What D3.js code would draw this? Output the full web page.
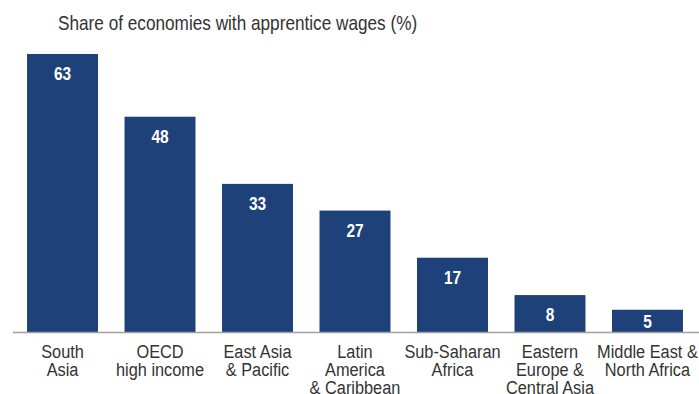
<!DOCTYPE html>
<html><head><meta charset="utf-8">
<script src="https://cdn.jsdelivr.net/npm/d3@7"></script>
<style>body{margin:0;background:#fff}svg{display:block}</style>
</head><body>
<svg id="chart" width="699" height="394"></svg>
<script>
const categories = [["South","Asia"],["OECD","high income"],["East Asia","& Pacific"],["Latin","America","& Caribbean"],["Sub-Saharan","Africa"],["Eastern","Europe &","Central Asia"],["Middle East &","North Africa"]];
const values = [62.5, 48.4, 33.3, 27.3, 16.7, 8.3, 5];
const valueLabels = ["63","48","33","27","17","8","5"];
const title = "Share of economies with apprentice wages (%)";

const font = "'Liberation Sans', Arial, sans-serif";
const squeeze = 0.86;
const svg = d3.select("#chart");
const keys = categories.map((c,i)=>i);
const x = d3.scaleBand().domain(keys).range([13, 697]).paddingInner(0.272).paddingOuter(0.144);
const y = d3.scaleLinear().domain([0, 62.5]).range([332, 54]);

function narrow(sel, cxFn){
  sel.attr("transform", function(d,i){ const cx = cxFn(d,i); return `translate(${cx},0) scale(${squeeze},1) translate(${-cx},0)`; });
}

svg.append("text").attr("x", 58).attr("y", 30).attr("font-family", font).attr("font-size", 20)
  .attr("fill", "#333").text(title).call(narrow, ()=>58);

svg.selectAll("rect.bar").data(values).join("rect").attr("class","bar")
  .attr("x",(d,i)=>x(i)).attr("width",x.bandwidth())
  .attr("y",d=>y(d)).attr("height",d=>y(0)-y(d)).attr("fill","#1e417a");

svg.selectAll("text.val").data(values).join("text").attr("class","val")
  .attr("x",(d,i)=>x(i)+x.bandwidth()/2).attr("y",d=>Math.min(y(d)+26, y(0)-4))
  .attr("text-anchor","middle").attr("font-family",font).attr("font-weight","bold")
  .attr("font-size",18).attr("fill","#fff").text((d,i)=>valueLabels[i])
  .call(narrow, (d,i)=>x(i)+x.bandwidth()/2);

svg.append("line").attr("x1",13).attr("x2",699).attr("y1",332.5).attr("y2",332.5)
  .attr("stroke","#a0a0a0").attr("stroke-width",1.5);

const lab = svg.selectAll("text.cat").data(categories).join("text").attr("class","cat")
  .attr("x",(d,i)=>x(i)+x.bandwidth()/2).attr("y",358)
  .attr("text-anchor","middle").attr("font-family",font).attr("font-size",19).attr("fill","#333")
  .call(narrow, (d,i)=>x(i)+x.bandwidth()/2);
lab.selectAll("tspan").data(d=>d).join("tspan")
  .attr("x",function(){return this.parentNode.getAttribute("x");})
  .attr("dy",(d,j)=>j===0?0:18).text(d=>d);
</script>
</body></html>
